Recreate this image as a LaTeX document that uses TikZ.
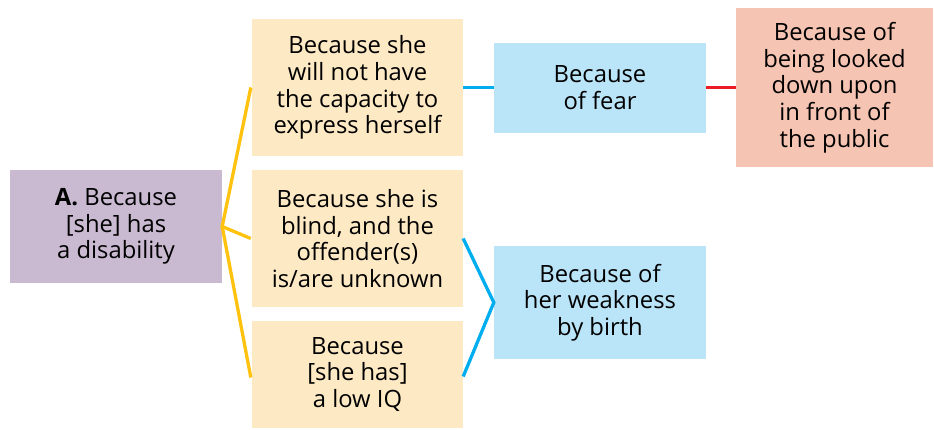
\documentclass[tikz,border=0pt]{standalone}
\usepackage{fontspec}
\setmainfont{Open Sans}
\definecolor{cpurple}{RGB}{201,185,209}
\definecolor{ctan}{RGB}{253,233,196}
\definecolor{cblue}{RGB}{186,228,248}
\definecolor{csalmon}{RGB}{246,196,178}
\definecolor{lyellow}{RGB}{255,194,14}
\definecolor{lblue}{RGB}{0,174,239}
\definecolor{lred}{RGB}{237,28,36}
\begin{document}
\begin{tikzpicture}[x=1pt,y=-1pt,
  box/.style={rectangle,inner sep=0pt,align=center,text=black,
    font=\fontsize{23.8}{26.7}\selectfont},
  yl/.style={draw=lyellow,line width=3.3pt},
  bl/.style={draw=lblue,line width=3.3pt},
  rl/.style={draw=lred,line width=3.3pt}]
\useasboundingbox (0,0) rectangle (934,429);
\node[box,fill=cpurple,minimum width=212pt,minimum height=113pt] (a) at (116,226.5) {\textbf{A.} Because\\{[she]} has\\a disability};
\node[box,fill=ctan,minimum width=211pt,minimum height=137pt] (t1) at (357.5,87.5) {Because she\\will not have\\the capacity to\\express herself};
\node[box,fill=ctan,minimum width=211pt,minimum height=137pt] (t2) at (357.5,238.5) {Because she is\\blind, and the\\offender(s)\\is/are unknown};
\node[box,fill=ctan,minimum width=211pt,minimum height=107pt] (t3) at (357.5,374.5) {Because\\{[she has]}\\a low IQ};
\node[box,fill=cblue,minimum width=212pt,minimum height=90pt] (b1) at (600,87.5) {Because\\of fear};
\node[box,fill=cblue,minimum width=212pt,minimum height=113pt] (b2) at (600,302.5) {Because of\\her weakness\\by birth};
\node[box,fill=csalmon,minimum width=197pt,minimum height=159pt] (r) at (834.5,87.5) {Because of\\being looked\\down upon\\in front of\\the public};
\draw[yl] ([xshift=-1pt]t1.west) -- (a.east) -- ([xshift=-1pt]t2.west);
\draw[yl] (a.east) -- ([xshift=-1pt,yshift=-3pt]t3.west);
\draw[bl] (t1.east) -- (b1.west);
\draw[rl] (b1.east) -- (r.west);
\draw[bl] (t2.east) -- (b2.west) -- ([yshift=-2pt]t3.east);
\end{tikzpicture}
\end{document}
